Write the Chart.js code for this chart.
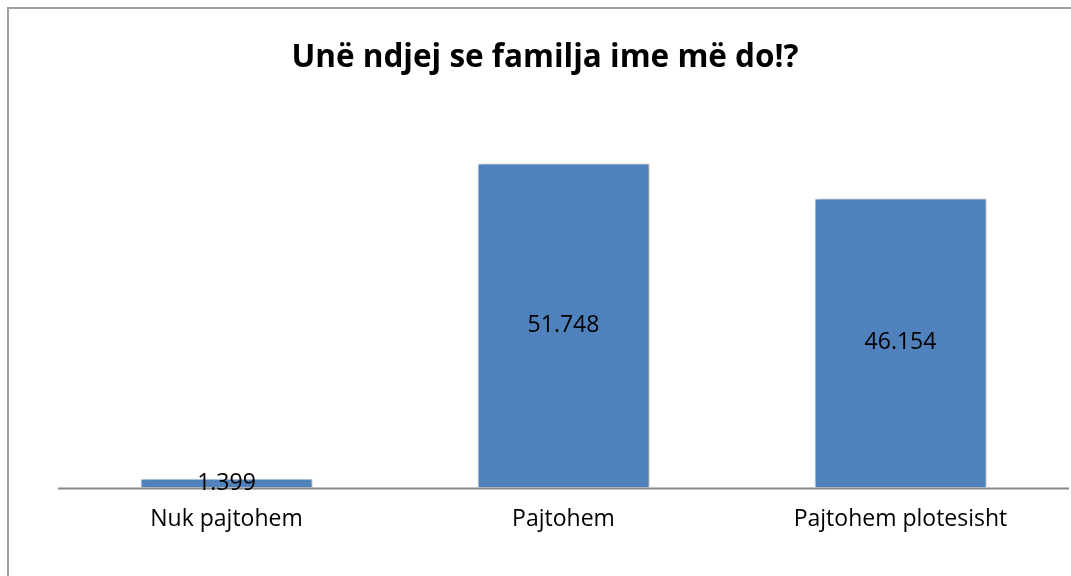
<!DOCTYPE html>
<html>
<head>
<meta charset="utf-8">
<script src="https://cdn.jsdelivr.net/npm/chart.js@4"></script>
<style>
  html, body { margin: 0; padding: 0; background: #fff; overflow: hidden; }
  #wrap { position: relative; width: 1071px; height: 576px; }
  #frame { position: absolute; left: 7px; top: 7px; width: 1100px; height: 600px;
           border-left: 2px solid #a0a0a0; border-top: 2px solid #a0a0a0; }
  canvas { position: absolute; left: 0; top: 0; }
</style>
</head>
<body>
<div id="wrap"><div id="frame"></div><canvas id="chart" width="1071" height="576"></canvas></div>
<script>
const title = 'Unë ndjej se familja ime më do!?';
const categories = ['Nuk pajtohem', 'Pajtohem', 'Pajtohem plotesisht'];
const values = [1.399, 51.748, 46.154];

// baseline, bar shadow + value labels in the middle of each bar
const extras = {
    id: 'extras',
    beforeDatasetsDraw(chart) {
        const c = chart.ctx;
        const a = chart.chartArea;
        c.save();
        c.strokeStyle = '#888';
        c.lineWidth = 2;
        c.beginPath();
        c.moveTo(a.left, a.bottom + 1);
        c.lineTo(a.right, a.bottom + 1);
        c.stroke();
        c.restore();
        c.save();
        c.shadowColor = 'rgba(0,0,0,0.35)';
        c.shadowBlur = 4;
        c.shadowOffsetX = 2;
        c.shadowOffsetY = 1;
    },
    afterDatasetsDraw(chart) {
        const c = chart.ctx;
        c.restore();
        const meta = chart.getDatasetMeta(0);
        c.save();
        c.font = '23px "Open Sans"';
        c.fillStyle = '#000';
        c.textAlign = 'center';
        c.textBaseline = 'middle';
        meta.data.forEach((bar, i) => {
            const y = (bar.y + bar.base) / 2;
            c.fillText(values[i].toFixed(3), bar.x, y);
        });
        c.restore();
    }
};

const ctx = document.getElementById('chart').getContext('2d');

const chart = new Chart(ctx, {
    type: 'bar',
    data: {
        labels: categories,
        datasets: [{
            data: values,
            backgroundColor: '#4f81bd',
            borderColor: '#dfe7f1',
            borderWidth: 1,
            borderSkipped: 'bottom'
        }]
    },
    options: {
        responsive: false,
        animation: false,
        layout: { padding: { left: 21, right: 2, top: 0, bottom: 25 } },
        plugins: {
            legend: { display: false },
            tooltip: { enabled: false },
            title: {
                display: true,
                text: title,
                color: '#000',
                font: { family: '"Open Sans"', size: 31.5, weight: 'bold' },
                padding: { top: 39, bottom: 35 }
            }
        },
        datasets: { bar: { categoryPercentage: 0.51, barPercentage: 1 } },
        scales: {
            x: {
                grid: { display: false, drawTicks: false },
                border: { display: false },
                ticks: {
                    color: '#000',
                    font: { family: '"Open Sans"', size: 23 },
                    padding: 18
                }
            },
            y: {
                display: true,
                min: 0,
                max: 60,
                grid: { display: false, drawTicks: false },
                border: { display: false },
                ticks: { display: false },
                afterFit(scale) { scale.width = 37; }
            }
        }
    },
    plugins: [extras]
});
</script>
</body>
</html>
